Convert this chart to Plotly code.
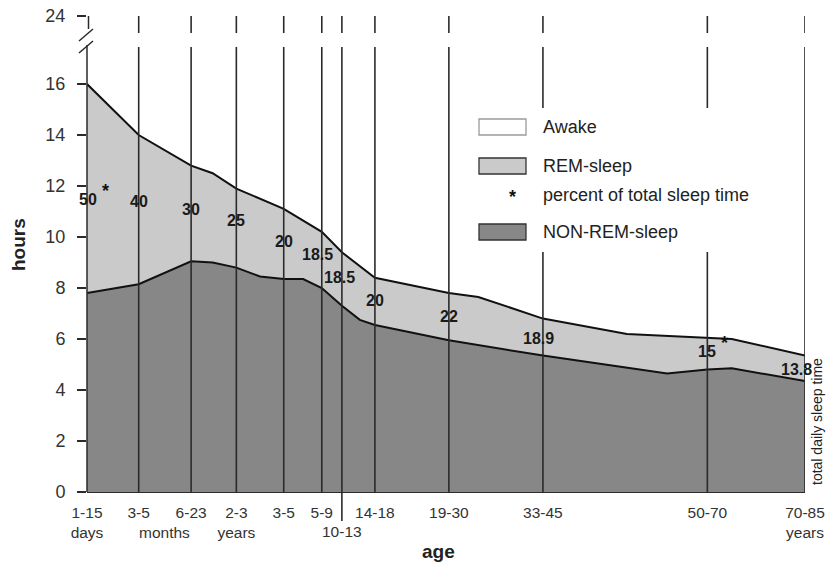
import numpy as np
import plotly.graph_objects as go

# ---------------- data ----------------
# age categories, placed on the chart's own (non-linear) age scale
age_labels = ["1-15<br>days", "3-5", "6-23", "2-3<br>years", "3-5", "5-9",
              "10-13", "14-18", "19-30", "33-45", "50-70", "70-85<br>years"]
age_pos = [0, 7.2, 14.5, 20.8, 27.4, 32.7, 35.5, 40.1, 50.4, 63.5, 86.4, 100]

# total daily sleep time (upper curve), hours
total_x = [0, 7.2, 14.5, 17.5, 20.8, 27.4, 32.7, 35.5, 40.1, 50.4, 54.5,
           63.5, 75.2, 86.4, 89.8, 100]
total_hours = [16.0, 14.0, 12.8, 12.5, 11.9, 11.1, 10.2, 9.4, 8.4, 7.8, 7.65,
               6.8, 6.2, 6.05, 6.0, 5.35]

# NON-REM sleep (lower curve), hours
nrem_x = [0, 7.2, 14.5, 17.5, 20.8, 24.1, 27.4, 30.1, 32.7, 35.5, 38.0, 40.1,
          50.4, 63.5, 80.8, 86.4, 89.8, 100]
nrem_hours = [7.8, 8.15, 9.05, 9.0, 8.8, 8.45, 8.35, 8.35, 8.0, 7.3, 6.75,
              6.55, 5.95, 5.35, 4.65, 4.8, 4.85, 4.35]

# REM sleep as percent of total sleep time, per age category
rem_pct = ["50", "40", "30", "25", "20", "18.5", "18.5", "20", "22", "18.9", "15", "13.8"]
pct_star = [True, False, False, False, False, False, False, False, False, False, True, False]

y_tick_vals = [0, 2, 4, 6, 8, 10, 12, 14, 16]
y_break_from = 16
y_top_label = 24

# ---------------- style / layout ----------------
W, H = 827, 563
# plot area in screen pixels
SL, ST, SR, SB = 87, 16, 805, 492
ML, MT, MR, MB = SL, ST, W - SR, H - SB
PW, PH = SR - SL, SB - ST

FONT = "Liberation Sans, Arial, sans-serif"
INK = "#2a2a2a"
REM_C = "#cacaca"
NREM_C = "#878787"


def break_map(v):
    # values above the axis break are compressed 3x
    return v if v <= y_break_from else y_break_from + (v - y_break_from) / 3.0


y_top = break_map(y_top_label)


def px(x):  # screen pixel -> paper x
    return (x - SL) / PW


def py(y):  # screen pixel -> paper y
    return (SB - y) / PH


# per-label nudges in pixels (dx, dy)
label_nudge = [(1, -11), (0, 8), (0, 4), (0, 8), (0, 3), (-4, 5), (-2, 2),
               (0, 1), (0, 0), (-4, -1), (0, 2), (-9, -1)]

fig = go.Figure()
fig.add_trace(go.Scatter(x=nrem_x, y=nrem_hours, mode="lines", fill="tozeroy",
                         fillcolor=NREM_C, line=dict(color="#111", width=2),
                         name="NON-REM-sleep", showlegend=False, hoverinfo="skip"))
fig.add_trace(go.Scatter(x=total_x, y=total_hours, mode="lines", fill="tonexty",
                         fillcolor=REM_C, line=dict(color="#111", width=2),
                         name="REM-sleep", showlegend=False, hoverinfo="skip"))

shapes = []
gap_lo, gap_hi = py(47), py(33)
for i, xv in enumerate(age_pos):
    if i == 0:
        continue
    y0 = py(521) if age_labels[i] == "10-13" else 0
    shapes.append(dict(type="line", xref="x", yref="paper", x0=xv, x1=xv, y0=y0, y1=gap_lo,
                       line=dict(color=INK, width=1.6), layer="above"))
    shapes.append(dict(type="line", xref="x", yref="paper", x0=xv, x1=xv, y0=gap_hi, y1=1,
                       line=dict(color=INK, width=1.6), layer="above"))

# y axis line with break
shapes.append(dict(type="line", xref="paper", yref="paper", x0=0, x1=0, y0=0, y1=py(45),
                   line=dict(color=INK, width=1.5), layer="above"))
shapes.append(dict(type="line", xref="paper", yref="paper", x0=px(88.5), x1=px(88.5), y0=1, y1=py(29),
                   line=dict(color=INK, width=1.5), layer="above"))
for (a, b, c, d) in [(79, 41, 93, 29), (79, 53, 93, 41)]:
    shapes.append(dict(type="line", xref="paper", yref="paper", x0=px(a), y0=py(b), x1=px(c), y1=py(d),
                       line=dict(color=INK, width=1.5), layer="above"))

# legend (white background covers the grid lines)
shapes.append(dict(type="rect", xref="paper", yref="paper", x0=px(468), x1=px(792), y0=py(252), y1=py(108),
                   fillcolor="white", line=dict(width=0), layer="above"))
legend_items = [("Awake", "white", "#9a9a9a", 127), ("REM-sleep", REM_C, "#333", 166),
                ("NON-REM-sleep", NREM_C, "#333", 232)]
for name, fc, lc, yc in legend_items:
    shapes.append(dict(type="rect", xref="paper", yref="paper", x0=px(479), x1=px(526),
                       y0=py(yc + 8), y1=py(yc - 8), fillcolor=fc, line=dict(color=lc, width=1.3),
                       layer="above"))

ann = []
for name, fc, lc, yc in legend_items:
    ann.append(dict(text=name, xref="paper", yref="paper", x=px(541), y=py(yc), xanchor="left",
                    yanchor="middle", showarrow=False, font=dict(family=FONT, size=18, color="#222")))
ann.append(dict(text="percent of total sleep time", xref="paper", yref="paper", x=px(541), y=py(195),
                xanchor="left", yanchor="middle", showarrow=False,
                font=dict(family=FONT, size=18, color="#222")))
ann.append(dict(text="<b>*</b>", xref="paper", yref="paper", x=px(512), y=py(197), xanchor="center",
                yanchor="middle", showarrow=False, font=dict(family=FONT, size=18, color="#111")))

# percent labels inside the REM band
for i, xv in enumerate(age_pos):
    mid = (np.interp(xv, total_x, total_hours) + np.interp(xv, nrem_x, nrem_hours)) / 2
    dx, dy = label_nudge[i]
    ann.append(dict(text="<b>" + rem_pct[i] + "</b>", x=xv, y=mid, xref="x", yref="y", showarrow=False,
                    xshift=dx, yshift=dy, xanchor="center", yanchor="middle",
                    font=dict(family=FONT, size=16, color="#1a1a1a")))
    if pct_star[i]:
        ann.append(dict(text="<b>*</b>", x=xv, y=mid, xref="x", yref="y", showarrow=False,
                        xshift=dx + 17, yshift=dy + 9, xanchor="center", yanchor="middle",
                        font=dict(family=FONT, size=18, color="#111")))

XFONT = dict(family=FONT, size=15.5, color="#333")
# x label extras
ann.append(dict(text="months", xref="x", yref="paper", x=(age_pos[1] + age_pos[2]) / 2, y=py(532),
                xanchor="center", yanchor="middle", showarrow=False, font=XFONT))
ann.append(dict(text="10-13", xref="x", yref="paper", x=age_pos[6], y=py(531),
                xanchor="center", yanchor="middle", showarrow=False, font=XFONT))
ann.append(dict(text="<b>age</b>", xref="paper", yref="paper", x=px(438), y=py(551),
                xanchor="center", yanchor="middle", showarrow=False,
                font=dict(family=FONT, size=19, color="#222")))
ann.append(dict(text="<b>hours</b>", xref="paper", yref="paper", x=px(19), y=py(245),
                xanchor="center", yanchor="middle", showarrow=False, textangle=-90,
                font=dict(family=FONT, size=19, color="#222")))
ann.append(dict(text="total daily sleep time", xref="paper", yref="paper", x=px(817), y=py(422),
                xanchor="center", yanchor="middle", showarrow=False, textangle=-90,
                font=dict(family=FONT, size=14, color="#222")))

tick_text_x = [("" if t == "10-13" else t) for t in age_labels]

fig.update_layout(
    width=W, height=H, margin=dict(l=ML, r=MR, t=MT, b=MB, autoexpand=False),
    paper_bgcolor="white", plot_bgcolor="white", showlegend=False,
    xaxis=dict(range=[0, 100], tickvals=age_pos, ticktext=tick_text_x, ticks="",
               showgrid=False, zeroline=False, showline=True, linecolor=INK, linewidth=1,
               ticklabelstandoff=6, automargin=False, ticklabeloverflow="allow",
               tickfont=XFONT),
    yaxis=dict(range=[0, y_top], tickvals=y_tick_vals + [y_top],
               ticktext=[str(v) for v in y_tick_vals] + [str(y_top_label)],
               ticks="outside", ticklen=9, tickwidth=1.5, tickcolor=INK,
               ticklabelstandoff=8, automargin=False, ticklabeloverflow="allow",
               showgrid=False, zeroline=False, showline=False,
               tickfont=dict(family=FONT, size=18, color="#333")),
    shapes=shapes, annotations=ann,
)

fig.write_html("out.html", config={"displayModeBar": False},
               post_script="document.body.style.margin='0';document.body.style.overflow='hidden';")
